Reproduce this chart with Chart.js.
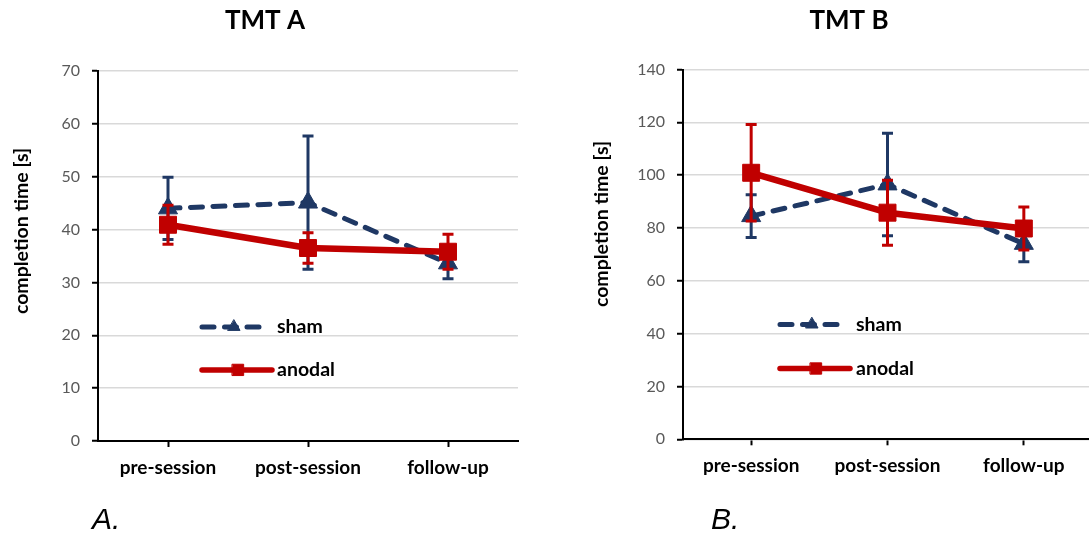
<!DOCTYPE html>
<html>
<head>
<meta charset="utf-8">
<script src="https://cdn.jsdelivr.net/npm/chart.js@4"></script>
<style>
html,body{margin:0;padding:0;background:#fff;overflow:hidden;width:1089px;height:537px;}
#wrap{position:relative;width:1089px;height:537px;overflow:hidden;}
canvas{position:absolute;top:0;}
#cA{left:0;}
#cB{left:545px;}
.panel{position:absolute;font-family:"Liberation Sans",Arial,sans-serif;font-style:italic;font-size:30px;line-height:30px;color:#000;}
</style>
</head>
<body>
<div id="wrap">
<canvas id="cA" width="545" height="537"></canvas>
<canvas id="cB" width="560" height="537"></canvas>
<div class="panel" style="left:92px;top:504px">A.</div>
<div class="panel" style="left:711px;top:504px">B.</div>
</div>
<script>
// ---- data ----
const categories = ['pre-session', 'post-session', 'follow-up'];
const seriesNames = ['sham', 'anodal'];

const tmtA_sham = [44.0, 45.1, 33.6];
const tmtA_shamErr = [5.9, 12.6, 2.9];
const tmtA_anodal = [40.9, 36.5, 35.8];
const tmtA_anodalErr = [3.7, 2.9, 3.3];

const tmtB_sham = [84.5, 96.5, 74.0];
const tmtB_shamErr = [8.1, 19.4, 6.8];
const tmtB_anodal = [100.9, 85.8, 79.8];
const tmtB_anodalErr = [18.3, 12.3, 8.1];

const tmtA_ticks = [0, 10, 20, 30, 40, 50, 60, 70];
const tmtB_ticks = [0, 20, 40, 60, 80, 100, 120, 140];

const chartTitles = ['TMT A', 'TMT B'];
const yTitleText = 'completion time [s]';

// ---- styles ----
const NAVY = '#1F3864';
const RED = '#C00000';
Chart.defaults.font.family = 'Lato, "Noto Sans", sans-serif';

const errorBarPlugin = {
  id: 'errorBars',
  afterDatasetDraw(chart, args, opts) {
    const ds = chart.data.datasets[args.index];
    if (!ds.errors) return;
    const ys = chart.scales.y;
    const ctx = chart.ctx;
    ctx.save();
    ctx.strokeStyle = ds.borderColor;
    ctx.lineWidth = opts.width;
    ctx.lineCap = 'butt';
    args.meta.data.forEach((pt, i) => {
      const v = ds.data[i], e = ds.errors[i];
      const x = pt.x;
      const yt = ys.getPixelForValue(v + e);
      const yb = ys.getPixelForValue(v - e);
      ctx.beginPath();
      ctx.moveTo(x, yt); ctx.lineTo(x, yb);
      ctx.moveTo(x - opts.cap / 2, yt); ctx.lineTo(x + opts.cap / 2, yt);
      ctx.moveTo(x - opts.cap / 2, yb); ctx.lineTo(x + opts.cap / 2, yb);
      ctx.stroke();
    });
    ctx.restore();
  }
};

const innerLegendPlugin = {
  id: 'innerLegend',
  afterDatasetsDraw(chart, args, opts) {
    const {ctx, chartArea} = chart;
    chart.data.datasets.forEach((ds, i) => {
      const item = opts.items[i];
      const x0 = chartArea.left + opts.x;
      const x1 = x0 + item.len;
      const y0 = chartArea.top + item.y;
      ctx.save();
      ctx.strokeStyle = ds.borderColor;
      ctx.lineWidth = item.w;
      ctx.setLineDash(ds.borderDash || []);
      ctx.lineCap = 'round';
      ctx.beginPath();
      ctx.moveTo(x0, y0); ctx.lineTo(x1, y0);
      ctx.stroke();
      ctx.setLineDash([]);
      ctx.fillStyle = ds.pointBackgroundColor;
      ctx.strokeStyle = ds.pointBackgroundColor;
      ctx.lineWidth = 1;
      Chart.helpers.drawPoint(ctx, {pointStyle: ds.pointStyle, radius: item.r, borderWidth: 1, rotation: 0}, x0 + item.mx, y0);
      ctx.fillStyle = '#000';
      ctx.font = opts.font;
      ctx.textAlign = 'left';
      ctx.textBaseline = 'middle';
      ctx.fillText(ds.label, chartArea.left + opts.textX, y0);
      ctx.restore();
    });
  }
};

const yTitlePlugin = {
  id: 'yTitle',
  afterDraw(chart, args, opts) {
    const ctx = chart.ctx;
    ctx.save();
    ctx.translate(opts.x, opts.y);
    ctx.rotate(-Math.PI / 2);
    ctx.font = opts.font;
    ctx.fillStyle = '#000';
    ctx.textAlign = 'center';
    ctx.textBaseline = 'middle';
    ctx.fillText(opts.text, 0, 0);
    ctx.restore();
  }
};

function makeChart(id, title, sham, shamErr, anodal, anodalErr, ticks, L) {
  const maxV = ticks[ticks.length - 1];
  const step = ticks[1] - ticks[0];
  return new Chart(document.getElementById(id), {
    type: 'line',
    data: {
      labels: categories,
      datasets: [
        {
          label: seriesNames[0], data: sham, errors: shamErr,
          borderColor: NAVY, backgroundColor: NAVY, borderWidth: 5,
          borderDash: [12, 10.5], borderCapStyle: 'round', borderJoinStyle: 'round',
          pointStyle: 'triangle', pointRadius: 11, pointHoverRadius: 11,
          pointBackgroundColor: NAVY, pointBorderColor: NAVY, pointBorderWidth: 1,
          tension: 0, fill: false, order: 2
        },
        {
          label: seriesNames[1], data: anodal, errors: anodalErr,
          borderColor: RED, backgroundColor: RED, borderWidth: 6.5,
          borderCapStyle: 'round', borderJoinStyle: 'round',
          pointStyle: 'rect', pointRadius: 12, pointHoverRadius: 12,
          pointBackgroundColor: RED, pointBorderColor: RED, pointBorderWidth: 1,
          tension: 0, fill: false, order: 1
        }
      ]
    },
    options: {
      responsive: false,
      animation: false,
      events: [],
      layout: {padding: {left: L.padL, right: L.padR, top: 0, bottom: 0}},
      plugins: {
        legend: {display: false},
        tooltip: {enabled: false},
        title: {
          display: true, text: title, color: '#000',
          font: {size: 26, weight: 'bold'},
          padding: {top: L.titleTop, bottom: L.titleBottom}
        },
        errorBars: {width: 3, cap: 11},
        innerLegend: {
          x: L.legX, textX: L.legTextX, font: 'bold 19.5px Lato',
          items: [
            {y: L.legY[0], len: 61, mx: 32, r: 7, w: 5},
            {y: L.legY[1], len: L.legLen2, mx: 36, r: 8, w: 5.5}
          ]
        },
        yTitle: {text: yTitleText, x: L.yTitleX, y: L.yTitleY, font: 'bold 19.5px Lato'}
      },
      scales: {
        x: {
          offset: true,
          grid: {display: true, drawOnChartArea: false, offset: false, tickLength: 6, tickColor: '#000', tickWidth: 2},
          border: {color: '#000', width: 2},
          ticks: {color: '#000', font: {size: 19, weight: 'bold'}, padding: 9, maxRotation: 0},
          afterFit(s) { s.height = L.xH; }
        },
        y: {
          min: 0, max: maxV,
          afterBuildTicks(s) { s.ticks = ticks.map(v => ({value: v})); },
          grid: {color: '#D9D9D9', lineWidth: 1.5, tickLength: 6, tickColor: '#000', tickWidth: 2},
          border: {color: '#000', width: 2},
          ticks: {color: '#595959', font: {size: 16}, padding: 12, stepSize: step},
          afterFit(s) { s.width = L.yW; }
        }
      }
    },
    plugins: [errorBarPlugin, innerLegendPlugin, yTitlePlugin]
  });
}

makeChart('cA', chartTitles[0], tmtA_sham, tmtA_shamErr, tmtA_anodal, tmtA_anodalErr, tmtA_ticks, {
  padL: 12, padR: 27, yW: 86, xH: 96, titleTop: 5, titleBottom: 34.7,
  legX: 104, legTextX: 179, legY: [256, 299], legLen2: 70,
  yTitleX: 22, yTitleY: 231
});
makeChart('cB', chartTitles[1], tmtB_sham, tmtB_shamErr, tmtB_anodal, tmtB_anodalErr, tmtB_ticks, {
  padL: 54, padR: 6, yW: 84, xH: 97.7, titleTop: 5, titleBottom: 33.3,
  legX: 97, legTextX: 173, legY: [255, 299], legLen2: 70,
  yTitleX: 57, yTitleY: 224
});
</script>
</body>
</html>
